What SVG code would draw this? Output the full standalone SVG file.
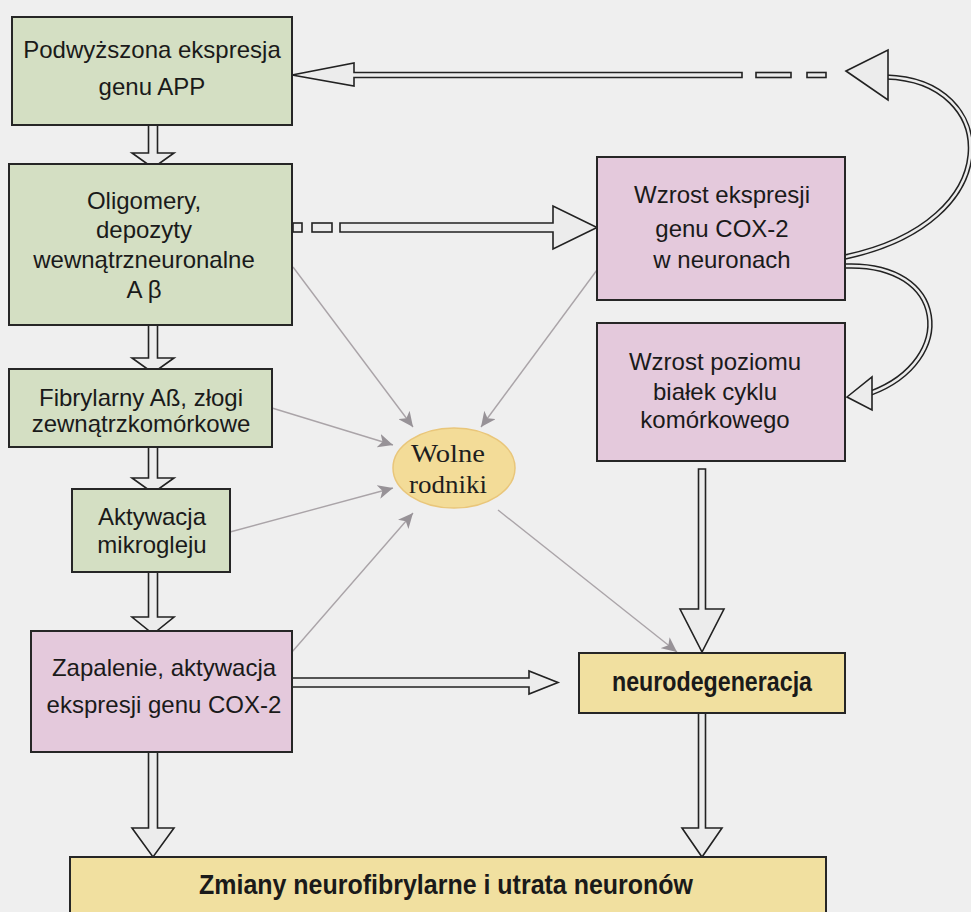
<svg xmlns="http://www.w3.org/2000/svg" width="971" height="912" viewBox="0 0 971 912">
<defs>
<style>
.bx{stroke:#262626;stroke-width:2}
.g{fill:#d4dfc3}
.p{fill:#e4c9dc}
.y{fill:#f1e0a0}
.t{font-family:"Liberation Sans",Arial,sans-serif;font-size:24px;fill:#1a1a1a;text-anchor:middle}
.tb{font-family:"Liberation Sans",Arial,sans-serif;font-weight:bold;fill:#1a1a1a;text-anchor:middle}
.ts{font-family:"Liberation Serif","Times New Roman",serif;font-size:25px;fill:#1e1e1e;text-anchor:middle}
.ha{fill:#ececec;stroke:#222;stroke-width:1.6;stroke-linejoin:miter}
.thin{stroke:#aaa4a8;stroke-width:1.4;fill:none;marker-end:url(#gh)}
.cv{fill:none;stroke:#222;stroke-width:5.5}
.cvi{fill:none;stroke:#ececec;stroke-width:2.5}
</style>
<marker id="gh" markerWidth="16" markerHeight="14" refX="15" refY="7" orient="auto" markerUnits="userSpaceOnUse">
<path d="M0,0 L15,7 L0,14 L4,7 z" fill="#979297"/>
</marker>
</defs>
<rect width="971" height="912" fill="#efefef"/>

<g id="connectors">
<polygon class="ha" points="148.5,124 157.5,124 157.5,153 174,153 153,168 132,153 148.5,153"/>
<polygon class="ha" points="148.5,324 157.5,324 157.5,358 174,358 153,373 132,358 148.5,358"/>
<polygon class="ha" points="148.5,446 157.5,446 157.5,478 174,478 153,493 132,478 148.5,478"/>
<polygon class="ha" points="148.5,571 157.5,571 157.5,617 174,617 153,634 132,617 148.5,617"/>
<polygon class="ha" points="148.5,751 157.5,751 157.5,828 174,828 153,857 132,828 148.5,828"/>
<polygon class="ha" points="698.5,469 705.5,469 705.5,609 724,609 702,652 680,609 698.5,609"/>
<polygon class="ha" points="698.5,712 705.5,712 705.5,828 722,828 702,857 682,828 698.5,828"/>
<polygon class="ha" points="292,678 529,678 529,671 558,682.5 529,694 529,687 292,687"/>
<rect class="ha" x="293" y="223" width="9" height="9"/>
<rect class="ha" x="312" y="223" width="20" height="9"/>
<polygon class="ha" points="340,223 553,223 553,206 597,227.5 553,249 553,232 340,232"/>
<path class="cv" d="M845,257 C1010,222 1000,80 886,77"/>
<path class="cvi" d="M845,257 C1010,222 1000,80 886,77"/>
<polygon class="ha" points="846,71 888,50 888,100"/>
<rect class="ha" x="807" y="72.5" width="19" height="5"/>
<rect class="ha" x="756" y="72.5" width="35" height="5"/>
<polygon class="ha" points="742,72.5 742,77.5 354,77.5 354,86 292,75 354,63 354,72.5"/>
<path class="cv" d="M845,266 C948,262 958,360 871,393"/>
<path class="cvi" d="M845,266 C948,262 958,360 871,393"/>
<polygon class="ha" points="847,397 872,377 872,410"/>
<line class="thin" x1="293" y1="267" x2="413" y2="427"/>
<line class="thin" x1="597" y1="270" x2="481" y2="427"/>
<line class="thin" x1="272" y1="408" x2="393" y2="445"/>
<line class="thin" x1="230" y1="532" x2="393" y2="488"/>
<line class="thin" x1="292" y1="652" x2="413" y2="513"/>
<line class="thin" x1="498" y1="510" x2="677" y2="652"/>
</g>

<g id="n-app">
<rect class="bx g" x="12" y="17" width="280" height="108"/>
<text class="t" x="152" y="58">Podwyższona ekspresja</text>
<text class="t" x="152" y="95">genu APP</text>
</g>
<g id="n-oligomery">
<rect class="bx g" x="9" y="164" width="283" height="161"/>
<text class="t" x="144" y="209">Oligomery,</text>
<text class="t" x="144" y="238">depozyty</text>
<text class="t" x="144" y="268">wewnątrzneuronalne</text>
<text class="t" x="144" y="298">A β</text>
</g>
<g id="n-fibrylarny">
<rect class="bx g" x="9" y="369" width="263" height="78"/>
<text class="t" x="141" y="406">Fibrylarny Aß, złogi</text>
<text class="t" x="141" y="432">zewnątrzkomórkowe</text>
</g>
<g id="n-mikroglej">
<rect class="bx g" x="72" y="489" width="158" height="83"/>
<text class="t" x="152" y="525">Aktywacja</text>
<text class="t" x="152" y="553">mikrogleju</text>
</g>
<g id="n-zapalenie">
<rect class="bx p" x="31" y="631" width="261" height="121"/>
<text class="t" x="164" y="676">Zapalenie, aktywacja</text>
<text class="t" x="164" y="713">ekspresji genu COX-2</text>
</g>
<g id="n-cox2">
<rect class="bx p" x="597" y="157" width="248" height="143"/>
<text class="t" x="722" y="203">Wzrost ekspresji</text>
<text class="t" x="722" y="237">genu COX-2</text>
<text class="t" x="722" y="268">w neuronach</text>
</g>
<g id="n-cykl">
<rect class="bx p" x="597" y="323" width="248" height="138"/>
<text class="t" x="715" y="370">Wzrost poziomu</text>
<text class="t" x="715" y="400">białek cyklu</text>
<text class="t" x="715" y="428">komórkowego</text>
</g>
<g id="n-rodniki">
<ellipse cx="454" cy="468" rx="61" ry="40" fill="#f3dc98" stroke="#e9c67a" stroke-width="1.5"/>
<text class="ts" x="448" y="462" textLength="74" lengthAdjust="spacingAndGlyphs">Wolne</text>
<text class="ts" x="448" y="493" textLength="78" lengthAdjust="spacingAndGlyphs">rodniki</text>
</g>
<g id="n-neurodegeneracja">
<rect class="bx y" x="579" y="653" width="266" height="60"/>
<text class="tb" x="712" y="691" font-size="28" textLength="200" lengthAdjust="spacingAndGlyphs">neurodegeneracja</text>
</g>
<g id="n-zmiany">
<rect class="bx y" x="70" y="857" width="756" height="70"/>
<text class="tb" x="446" y="894" font-size="28" textLength="494" lengthAdjust="spacingAndGlyphs">Zmiany neurofibrylarne i utrata neuronów</text>
</g>
</svg>
